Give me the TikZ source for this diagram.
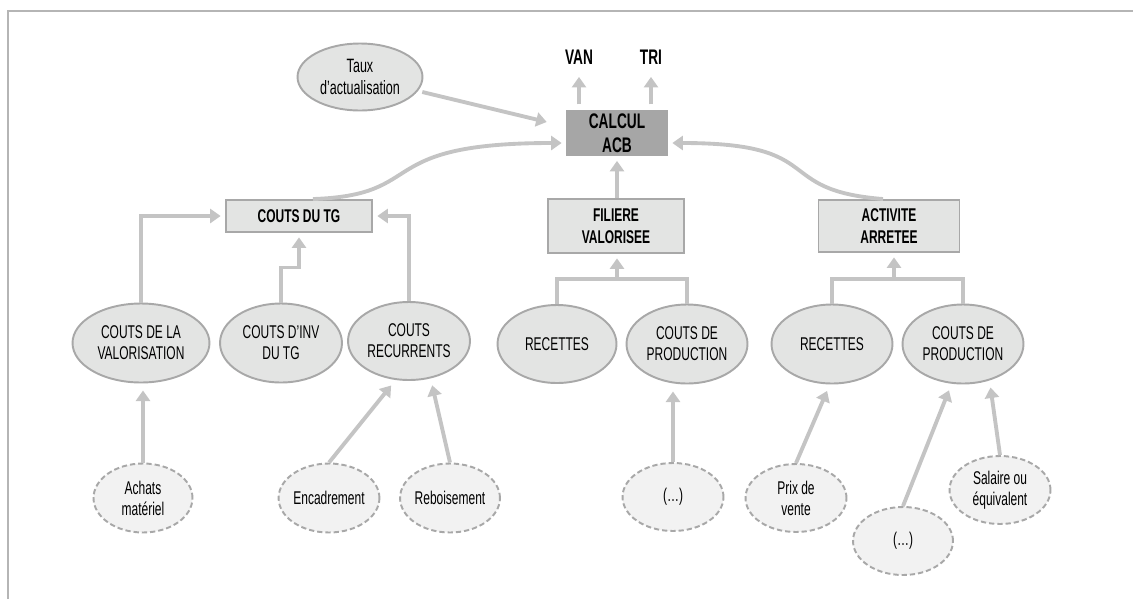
\documentclass[tikz,border=0pt]{standalone}
\usepackage{fontspec}
\setmainfont[FakeStretch=0.65]{Liberation Sans}
\usetikzlibrary{
	calc,
	arrows.meta,
	shapes.geometric,
}
\definecolor{trait}{HTML}{C4C4C4}
\definecolor{bord}{HTML}{A8A8A8}
\definecolor{fond}{HTML}{E3E4E3}
\definecolor{fondclair}{HTML}{F2F2F2}
\definecolor{fondcalc}{HTML}{A6A6A6}
\definecolor{cadre}{HTML}{B5B5B5}

\begin{document}
\begin{tikzpicture}[
	x=0.02cm, y=-0.02cm,
	every node/.style={font=\fontsize{10.5}{12}\selectfont, align=center, inner sep=0pt},
	boite/.style={draw=bord, fill=fond, line width=1.1pt, font=\bfseries\fontsize{10.5}{12.5}\selectfont},
	bulle/.style={ellipse, draw=bord, fill=fond, line width=1.1pt},
	pointille/.style={ellipse, draw=bord, fill=fondclair, line width=1.1pt, dash pattern=on 3pt off 1.7pt},
	titre/.style={font=\bfseries\fontsize{12}{13.5}\selectfont},
	fleche/.style={draw=trait, line width=2.2pt, -{Triangle[width=8pt,length=6pt]}, shorten >=2.5pt},
	lien/.style={draw=trait, line width=2.2pt},
]
\useasboundingbox (0,0) rectangle (1133,599);
\draw[cadre, line width=1.1pt] (8,599) -- (8,11) -- (1133,11);

% haut
\node[boite, titre, fill=fondcalc, draw=fondcalc, minimum width=2cm, minimum height=0.9cm] (calc) at (617,133) {CALCUL\\ACB};
\node[titre] (van) at (579,57) {VAN};
\node[titre] (tri) at (651,57) {TRI};
\node[bulle, minimum width=2.5cm, minimum height=1.34cm, font=\fontsize{11}{12.5}\selectfont] (taux) at (360,77) {Taux\\d’actualisation};
\coordinate (tx) at (551,123);

% boites
\node[boite, minimum width=2.92cm, minimum height=0.64cm] (tg) at (299,216) {COUTS DU TG};
\node[boite, minimum width=2.72cm, minimum height=1.08cm] (fil) at (616,226) {FILIERE\\VALORISEE};
\node[boite, minimum width=2.82cm, minimum height=1.04cm] (act) at (889,226) {ACTIVITE\\ARRETEE};

% bulles
\node[bulle, minimum width=2.74cm, minimum height=1.58cm] (val) at (141,343) {COUTS DE LA\\VALORISATION};
\node[bulle, minimum width=2.44cm, minimum height=1.58cm] (inv) at (281,343) {COUTS D’INV\\DU TG};
\node[bulle, minimum width=2.44cm, minimum height=1.56cm] (rec) at (409,341) {COUTS\\RECURRENTS};
\node[bulle, minimum width=2.38cm, minimum height=1.56cm] (rec1) at (557,344) {RECETTES};
\node[bulle, minimum width=2.42cm, minimum height=1.58cm] (prod1) at (687,344) {COUTS DE\\PRODUCTION};
\node[bulle, minimum width=2.42cm, minimum height=1.58cm] (rec2) at (832,344) {RECETTES};
\node[bulle, minimum width=2.42cm, minimum height=1.58cm] (prod2) at (963,344) {COUTS DE\\PRODUCTION};

% pointilles
\node[pointille, minimum width=1.98cm, minimum height=1.38cm] (achats) at (143,498) {Achats\\matériel};
\node[pointille, minimum width=1.98cm, minimum height=1.38cm] (enc) at (329,498) {Encadrement};
\node[pointille, minimum width=1.98cm, minimum height=1.38cm] (rebo) at (450,498) {Reboisement};
\node[pointille, minimum width=2.02cm, minimum height=1.36cm] (dots1) at (673,497) {(…)};
\node[pointille, minimum width=2.02cm, minimum height=1.36cm] (prix) at (796,498) {Prix de\\vente};
\node[pointille, minimum width=2cm, minimum height=1.36cm] (dots2) at (903,541) {(…)};
\node[pointille, minimum width=2.02cm, minimum height=1.36cm] (sal) at (1000,490) {Salaire ou\\équivalent};

% liaisons
\draw[fleche, shorten <=3pt, shorten >=7pt] (van |- calc.north) -- (van);
\draw[fleche, shorten <=3pt, shorten >=7pt] (tri |- calc.north) -- (tri);
\draw[fleche, shorten <=2.5pt] (taux) -- (tx);
\draw[fleche] ($(tg.north)+(14,0)$) .. controls (430,195) and (370,143) .. ($(calc.west)+(0,10)$);
\draw[fleche] ($(act.north)+(-6,0)$) .. controls (770,190) and (830,143) .. ($(calc.east)+(0,10)$);
\draw[fleche] (fil.north -| calc) -- (calc);

\draw[fleche] (val.north) |- (tg.west);
\draw[fleche] (inv.north) -- ++(0,-35) -| (tg.south);
\draw[fleche] (rec.north) |- (tg.east);

\coordinate (jf) at (617,279);
\coordinate (ja) at (894,279);
\draw[lien] (rec1.north) |- (jf) -| (prod1.north);
\draw[fleche] (jf) -- (jf |- fil.south);
\draw[lien] (rec2.north) |- (ja) -| (prod2.north);
\draw[fleche] (ja) -- (ja |- act.south);

\draw[fleche, shorten >=4pt] (achats.north) -- (achats.north |- val.south);
\draw[fleche, shorten >=4pt] (enc.north) -- (rec.251);
\draw[fleche, shorten >=4pt] (rebo.north) -- (rec.300);
\draw[fleche, shorten >=4pt] (dots1.north) -- (dots1.north |- prod1.south);
\draw[fleche, shorten >=4pt] (prix.north) -- (rec2.267);
\draw[fleche, shorten >=4pt] (dots2.north) -- (prod2.254);
\draw[fleche, shorten >=4pt] (sal.north) -- (prod2.306);
\end{tikzpicture}
\end{document}
